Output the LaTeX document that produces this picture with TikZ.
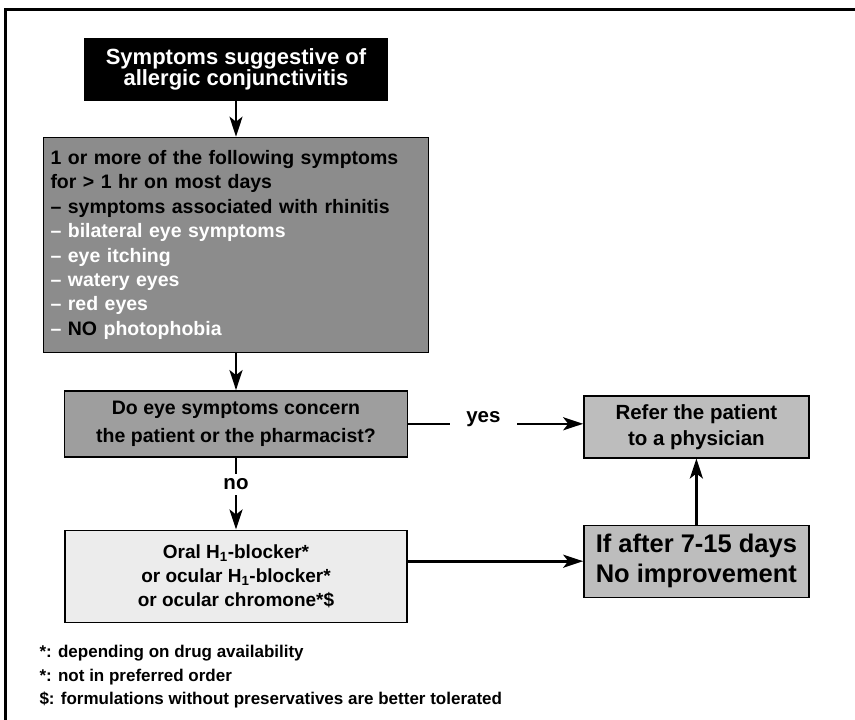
\documentclass[tikz,border=0pt]{standalone}
\usepackage{fontspec}
\setmainfont{Liberation Sans}
\usetikzlibrary{arrows.meta,positioning}

\definecolor{darkbox}{gray}{0.55}
\definecolor{midbox}{gray}{0.62}
\definecolor{lightbox}{gray}{0.74}
\definecolor{palebox}{gray}{0.925}

\begin{document}
\begin{tikzpicture}[
    x = 1pt, y = -1pt, % pixel like coordinates, y going down
    > = {Stealth[length=20pt,width=13pt,inset=5pt]}, % arrow head style
    every node/.style = {font=\bfseries},
    box/.style = {draw=black, line width=1.4pt, align=center, inner sep=0pt},
    flow/.style = {->, line width=2.6pt},
    tag/.style = {fill=white, inner sep=0pt, font=\bfseries\fontsize{20.5}{24}\selectfont}
    ]
    \useasboundingbox (0,0) rectangle (855,720);

    % frame (only top and left edge show)
    \draw[line width=3pt] (5,720) -- (5,9.5) -- (855,9.5);

    \node[box, fill=black, text=white, minimum width=303pt, minimum height=61pt,
          font=\bfseries\fontsize{22}{19.5}\selectfont] (start) at (236,69.5)
        {Symptoms suggestive of\\allergic conjunctivitis};
    \node[box, fill=darkbox, minimum width=385pt, minimum height=215pt,
          text width=371pt, align=left, font=\bfseries\fontsize{19.5}{24.4}\selectfont,
          below=36pt of start] (criteria)
        {1 or more of the following symptoms\\
         for > 1 hr on most days\\
         – symptoms associated with rhinitis\\
         \textcolor{white}{– bilateral eye symptoms}\\
         \textcolor{white}{– eye itching}\\
         \textcolor{white}{– watery eyes}\\
         \textcolor{white}{– red eyes}\\
         \textcolor{white}{–} NO \textcolor{white}{photophobia}};
    \node[box, fill=midbox, minimum width=343pt, minimum height=66pt,
          font=\bfseries\fontsize{19.5}{28}\selectfont,
          below=37pt of criteria] (concern)
        {Do eye symptoms concern\\the patient or the pharmacist?};
    \node[box, fill=palebox, minimum width=342pt, minimum height=92pt,
          font=\bfseries\fontsize{19}{24}\selectfont,
          below=72pt of concern] (treat)
        {Oral H\textsubscript{1}-blocker*\\or ocular H\textsubscript{1}-blocker*\\or ocular chromone*\$};
    \node[box, fill=lightbox, minimum width=225pt, minimum height=62pt,
          font=\bfseries\fontsize{20.5}{26}\selectfont,
          right=175pt of concern, yshift=-3pt] (refer)
        {Refer the patient\\to a physician};
    \node[box, fill=lightbox, minimum width=225pt, minimum height=72pt,
          font=\bfseries\fontsize{25.5}{30}\selectfont,
          below=66pt of refer] (wait)
        {If after 7-15 days\\No improvement};

    \node[anchor=west, align=left, font=\bfseries\fontsize{17}{23.5}\selectfont] (notes) at (36,677)
        {*: depending on drug availability\\
         *: not in preferred order\\
         \$: formulations without preservatives are better tolerated};

    \draw[flow] (start) -- (criteria);
    \draw[flow] (criteria) -- (concern);
    \draw[flow] (concern) -- node[tag, pos=0.375, minimum height=21pt]{no} (treat);
    \draw[flow] (concern.east) -- node[tag, pos=0.43, minimum width=67pt, minimum height=30pt, yshift=5pt]{yes} (concern.east -| refer.west);
    \draw[flow] (wait.west -| treat.east) -- (wait.west);
    \draw[flow] (wait) -- (refer);
\end{tikzpicture}
\end{document}
